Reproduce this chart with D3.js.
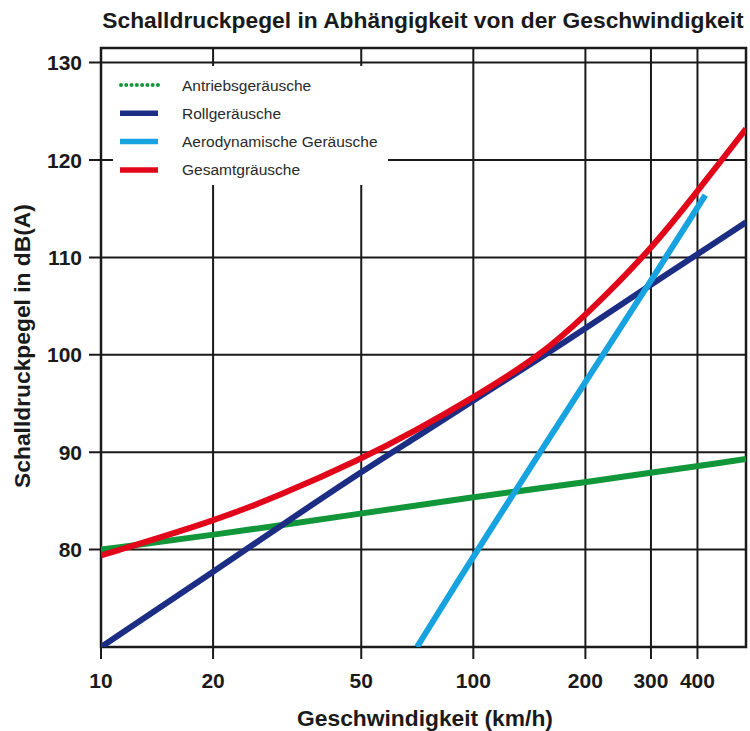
<!DOCTYPE html>
<html lang="de">
<head>
<meta charset="UTF-8">
<title>Schalldruckpegel</title>
<script src="https://d3js.org/d3.v7.min.js"></script>
<style>
    body { margin: 0; background: #fff; }
    svg text { font-family: "Liberation Sans", Arial, sans-serif; fill: #1a1a1a; }
    .tick-label { font-size: 21px; font-weight: 700; }
    .axis-title { font-size: 22.8px; font-weight: 700; }
    .legend-text { font-size: 15.5px; fill: #2a2a2a; }
</style>
</head>
<body>
<script>
// --- data ---
const xTicks = [10, 20, 50, 100, 200, 300, 400];
const yTicks = [80, 90, 100, 110, 120, 130];

const antriebV  = [10, 20, 50, 100, 200, 540];
const antriebDb = [80.0, 81.5, 83.7, 85.4, 86.9, 89.3];

const rollV  = [10, 20, 30, 50, 70, 100, 150, 200, 300, 540];
const rollDb = [70.0, 77.7, 82.3, 88.0, 91.5, 95.3, 99.6, 102.7, 107.2, 113.6];

const aeroV  = [70.6, 102.5, 223, 300, 420];
const aeroDb = [70.0, 80.0, 100.0, 107.6, 116.4];

const gesamtV  = [10, 20, 30, 50, 70, 100, 150, 200, 300, 400, 540];
const gesamtDb = [79.4, 82.9, 85.5, 89.3, 92.2, 95.6, 99.8, 104.0, 110.8, 116.8, 123.2];

const seriesNames  = ["Antriebsgeräusche", "Rollgeräusche", "Aerodynamische Geräusche", "Gesamtgräusche"];
const seriesColors = ["#12963a", "#1c2d84", "#16a3df", "#e2061b"];

const width = 750, height = 731;
const m = { left: 101, right: 746, top: 48, bottom: 647 };

const svg = d3.select("body").append("svg")
    .attr("width", width).attr("height", height);

const x = d3.scaleLog().domain([10, 540]).range([m.left, m.right]);
const y = d3.scaleLinear().domain([70, 131.5]).range([m.bottom, m.top]);

// title
svg.append("text")
    .attr("class", "axis-title")
    .attr("x", 423).attr("y", 28)
    .attr("text-anchor", "middle")
    .text("Schalldruckpegel in Abhängigkeit von der Geschwindigkeit");

// grid
const grid = svg.append("g").attr("stroke", "#1a1a1a").attr("stroke-width", 2);
grid.selectAll(".vg").data(xTicks.slice(1)).enter().append("line")
    .attr("x1", d => x(d)).attr("x2", d => x(d))
    .attr("y1", m.top).attr("y2", m.bottom + 12);
grid.append("line").attr("x1", x(10)).attr("x2", x(10)).attr("y1", m.bottom).attr("y2", m.bottom + 12);
grid.selectAll(".hg").data(yTicks).enter().append("line")
    .attr("x1", m.left - 12).attr("x2", m.right)
    .attr("y1", d => y(d)).attr("y2", d => y(d));

// frame
svg.append("rect")
    .attr("x", m.left).attr("y", m.top)
    .attr("width", m.right - m.left).attr("height", m.bottom - m.top)
    .attr("fill", "none").attr("stroke", "#1a1a1a").attr("stroke-width", 2.5);

// tick labels
svg.append("g").selectAll("text").data(xTicks).enter().append("text")
    .attr("class", "tick-label")
    .attr("x", d => x(d)).attr("y", 688)
    .attr("text-anchor", "middle")
    .text(d => d);

svg.append("g").selectAll("text").data(yTicks).enter().append("text")
    .attr("class", "tick-label")
    .attr("x", 82).attr("y", d => y(d) + 7.5)
    .attr("text-anchor", "end")
    .text(d => d);

// axis titles
svg.append("text")
    .attr("class", "axis-title")
    .attr("x", 425).attr("y", 726)
    .attr("text-anchor", "middle")
    .text("Geschwindigkeit (km/h)");

svg.append("text")
    .attr("class", "axis-title")
    .attr("transform", "translate(30," + 346 + ") rotate(-90)")
    .attr("text-anchor", "middle")
    .text("Schalldruckpegel in dB(A)");

// curves
const line = d3.line()
    .x(d => x(d[0]))
    .y(d => y(d[1]))
    .curve(d3.curveBasis);

const allSeries = [
    d3.zip(antriebV, antriebDb),
    d3.zip(rollV, rollDb),
    d3.zip(aeroV, aeroDb),
    d3.zip(gesamtV, gesamtDb)
];

svg.append("defs").append("clipPath").attr("id", "plot")
    .append("rect").attr("x", m.left).attr("y", m.top)
    .attr("width", m.right - m.left).attr("height", m.bottom - m.top);

svg.append("g").attr("clip-path", "url(#plot)")
    .selectAll("path").data(allSeries).enter().append("path")
    .attr("d", line)
    .attr("fill", "none")
    .attr("stroke", (d, i) => seriesColors[i])
    .attr("stroke-width", 6);

// legend
const lg = svg.append("g");
lg.append("rect")
    .attr("x", 113).attr("y", 66)
    .attr("width", 275).attr("height", 119)
    .attr("fill", "#fff");

const rows = lg.selectAll(".row").data(seriesNames).enter().append("g")
    .attr("transform", (d, i) => "translate(0," + (85 + i * 28.3) + ")");

rows.append("line")
    .attr("x1", (d, i) => i === 0 ? 121 : 120).attr("x2", 158)
    .attr("y1", 0).attr("y2", 0)
    .attr("stroke", (d, i) => seriesColors[i])
    .attr("stroke-width", (d, i) => i === 0 ? 4 : 5.5)
    .attr("stroke-linecap", (d, i) => i === 0 ? "round" : "butt")
    .attr("stroke-dasharray", (d, i) => i === 0 ? "0 5.28" : null);

rows.append("text")
    .attr("class", "legend-text")
    .attr("x", 182).attr("y", 5.5)
    .text(d => d);
</script>
</body>
</html>
